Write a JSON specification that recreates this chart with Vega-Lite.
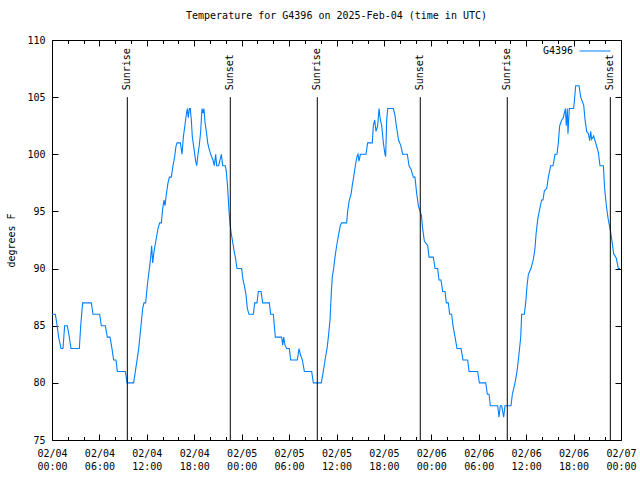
{
  "$schema": "https://vega.github.io/schema/vega-lite/v6.json",
  "width": 569,
  "height": 400,
  "autosize": {"type": "none"},
  "padding": {"left": 52, "top": 40, "right": 19, "bottom": 40},
  "background": "white",
  "title": {"text": "Temperature for G4396 on 2025-Feb-04 (time in UTC)", "font": "DejaVu Sans Mono", "fontSize": 10, "fontWeight": "normal", "color": "black", "anchor": "middle", "offset": 14},
  "config": {
    "view": {"stroke": "black", "strokeWidth": 1},
    "axis": {"domain": false, "grid": false, "labelFont": "DejaVu Sans Mono", "labelFontSize": 10, "labelColor": "black", "tickColor": "black", "tickWidth": 1, "titleFont": "DejaVu Sans Mono", "titleFontSize": 10, "titleFontWeight": "normal", "titleColor": "black"}
  },
  "datasets": {
    "temps": [
      {"hour":0,"temp":86},{"hour":0.42,"temp":86},{"hour":0.59,"temp":85.3},{"hour":0.84,"temp":84},{"hour":1.14,"temp":83},{"hour":1.39,"temp":83},{"hour":1.6,"temp":85},{"hour":1.94,"temp":85},{"hour":2.19,"temp":84},{"hour":2.4,"temp":83},{"hour":3.46,"temp":83},{"hour":3.63,"temp":85},{"hour":3.88,"temp":87},{"hour":4.98,"temp":87},{"hour":5.19,"temp":86},{"hour":6.03,"temp":86},{"hour":6.24,"temp":85},{"hour":6.75,"temp":85},{"hour":7.0,"temp":84},{"hour":7.34,"temp":84},{"hour":7.59,"temp":83},{"hour":7.8,"temp":82},{"hour":8.1,"temp":82},{"hour":8.27,"temp":81},{"hour":9.28,"temp":81},{"hour":9.4,"temp":80.5},{"hour":9.49,"temp":80},{"hour":10.33,"temp":80},{"hour":10.55,"temp":81},{"hour":10.97,"temp":83},{"hour":11.26,"temp":85},{"hour":11.47,"temp":86.5},{"hour":11.64,"temp":87},{"hour":11.85,"temp":87},{"hour":12.06,"temp":88.5},{"hour":12.32,"temp":90},{"hour":12.49,"temp":91},{"hour":12.61,"temp":92},{"hour":12.74,"temp":90.5},{"hour":12.91,"temp":91.5},{"hour":13.16,"temp":92.5},{"hour":13.41,"temp":93.5},{"hour":13.62,"temp":94},{"hour":13.84,"temp":94},{"hour":14.0,"temp":95.2},{"hour":14.17,"temp":96},{"hour":14.3,"temp":95.5},{"hour":14.47,"temp":96.5},{"hour":14.68,"temp":97.5},{"hour":14.85,"temp":98},{"hour":15.1,"temp":98},{"hour":15.31,"temp":99},{"hour":15.52,"temp":99.8},{"hour":15.69,"temp":100.7},{"hour":15.82,"temp":101},{"hour":16.24,"temp":101},{"hour":16.45,"temp":100},{"hour":16.62,"temp":101.5},{"hour":16.83,"temp":102.6},{"hour":17.0,"temp":103.5},{"hour":17.13,"temp":104},{"hour":17.25,"temp":103.2},{"hour":17.38,"temp":104},{"hour":17.5,"temp":104},{"hour":17.63,"temp":103},{"hour":17.76,"temp":101.5},{"hour":17.97,"temp":100.5},{"hour":18.18,"temp":99.4},{"hour":18.31,"temp":99},{"hour":18.47,"temp":100},{"hour":18.64,"temp":100.8},{"hour":18.81,"temp":102},{"hour":18.98,"temp":104},{"hour":19.11,"temp":103.6},{"hour":19.23,"temp":104},{"hour":19.36,"temp":102.8},{"hour":19.53,"temp":102},{"hour":19.7,"temp":101},{"hour":19.87,"temp":100.5},{"hour":20.08,"temp":100},{"hour":20.37,"temp":99.5},{"hour":20.54,"temp":99},{"hour":20.71,"temp":100},{"hour":20.84,"temp":99},{"hour":21.09,"temp":99},{"hour":21.43,"temp":100},{"hour":21.6,"temp":99},{"hour":21.93,"temp":99},{"hour":22.06,"temp":98.5},{"hour":22.23,"temp":97},{"hour":22.4,"temp":95},{"hour":22.52,"temp":94},{"hour":22.65,"temp":93.2},{"hour":22.82,"temp":92.5},{"hour":23.03,"temp":91.6},{"hour":23.2,"temp":91},{"hour":23.41,"temp":90},{"hour":24.0,"temp":90},
      {"hour":24.17,"temp":89},{"hour":24.34,"temp":88.5},{"hour":24.55,"temp":87.7},{"hour":24.72,"temp":86.5},{"hour":24.93,"temp":86},{"hour":25.48,"temp":86},{"hour":25.65,"temp":87},{"hour":25.94,"temp":87},{"hour":26.11,"temp":88},{"hour":26.45,"temp":88},{"hour":26.66,"temp":87},{"hour":27.5,"temp":87},{"hour":27.67,"temp":86},{"hour":28.01,"temp":86},{"hour":28.13,"temp":85},{"hour":28.26,"temp":84},{"hour":29.06,"temp":84},{"hour":29.19,"temp":83.3},{"hour":29.32,"temp":84},{"hour":29.48,"temp":83.3},{"hour":29.69,"temp":83},{"hour":30.03,"temp":83},{"hour":30.2,"temp":82},{"hour":31.04,"temp":82},{"hour":31.26,"temp":83},{"hour":31.42,"temp":82.5},{"hour":31.68,"temp":82},{"hour":31.93,"temp":81},{"hour":32.86,"temp":81},{"hour":33.07,"temp":80},{"hour":34.08,"temp":80},{"hour":34.33,"temp":81},{"hour":34.55,"temp":82},{"hour":34.8,"temp":83},{"hour":34.97,"temp":84},{"hour":35.18,"temp":85.5},{"hour":35.35,"temp":88},{"hour":35.47,"temp":89.3},{"hour":35.64,"temp":90},{"hour":35.81,"temp":91},{"hour":36.02,"temp":92},{"hour":36.27,"temp":93},{"hour":36.49,"temp":93.8},{"hour":36.65,"temp":94},{"hour":37.29,"temp":94},{"hour":37.41,"temp":95},{"hour":37.62,"temp":96},{"hour":37.84,"temp":96.5},{"hour":38.0,"temp":97.3},{"hour":38.17,"temp":98},{"hour":38.38,"temp":99},{"hour":38.59,"temp":99.8},{"hour":38.72,"temp":100},{"hour":38.85,"temp":99.4},{"hour":39.02,"temp":100},{"hour":39.73,"temp":100},{"hour":39.94,"temp":101},{"hour":40.53,"temp":101},{"hour":40.66,"temp":102.5},{"hour":40.83,"temp":103},{"hour":41.0,"temp":102},{"hour":41.21,"temp":102.5},{"hour":41.38,"temp":104},{"hour":41.55,"temp":103},{"hour":41.72,"temp":102.5},{"hour":41.93,"temp":101},{"hour":42.14,"temp":100},{"hour":42.22,"temp":99.8},{"hour":42.35,"temp":103},{"hour":42.48,"temp":104},{"hour":43.19,"temp":104},{"hour":43.4,"temp":103.4},{"hour":43.61,"temp":102.3},{"hour":43.87,"temp":101.2},{"hour":44.12,"temp":100.8},{"hour":44.37,"temp":100},{"hour":44.96,"temp":100},{"hour":45.18,"temp":99},{"hour":45.43,"temp":98.7},{"hour":45.72,"temp":98},{"hour":45.93,"temp":98},{"hour":46.14,"temp":96.6},{"hour":46.36,"temp":95.5},{"hour":46.57,"temp":95},{"hour":46.74,"temp":94.7},{"hour":46.9,"temp":93.5},{"hour":47.12,"temp":92.4},
      {"hour":47.54,"temp":92},{"hour":47.71,"temp":91},{"hour":48.25,"temp":91},{"hour":48.47,"temp":90},{"hour":48.8,"temp":90},{"hour":48.97,"temp":89},{"hour":49.22,"temp":89},{"hour":49.44,"temp":88},{"hour":49.73,"temp":88},{"hour":49.9,"temp":87},{"hour":50.15,"temp":87},{"hour":50.32,"temp":86},{"hour":50.57,"temp":86},{"hour":50.74,"temp":85},{"hour":51.0,"temp":84},{"hour":51.25,"temp":83},{"hour":51.76,"temp":83},{"hour":52.01,"temp":82},{"hour":52.6,"temp":82},{"hour":52.77,"temp":81},{"hour":53.86,"temp":81},{"hour":54.08,"temp":80},{"hour":54.88,"temp":80},{"hour":55.09,"temp":79},{"hour":55.3,"temp":79},{"hour":55.47,"temp":78},{"hour":56.4,"temp":78},{"hour":56.56,"temp":77},{"hour":56.73,"temp":78},{"hour":56.9,"temp":78},{"hour":57.15,"temp":77},{"hour":57.32,"temp":78},{"hour":58.08,"temp":78},{"hour":58.25,"temp":79},{"hour":58.59,"temp":80},{"hour":58.84,"temp":81},{"hour":59.09,"temp":82.5},{"hour":59.31,"temp":84},{"hour":59.43,"temp":86},{"hour":59.77,"temp":86},{"hour":59.94,"temp":87},{"hour":60.11,"temp":88.5},{"hour":60.28,"temp":89.5},{"hour":60.61,"temp":90},{"hour":60.91,"temp":90.8},{"hour":61.12,"temp":91.8},{"hour":61.25,"temp":93},{"hour":61.46,"temp":94.3},{"hour":61.71,"temp":95.2},{"hour":61.96,"temp":96},{"hour":62.13,"temp":96},{"hour":62.3,"temp":96.8},{"hour":62.6,"temp":97},{"hour":62.81,"temp":98},{"hour":63.1,"temp":99},{"hour":63.4,"temp":99},{"hour":63.65,"temp":100},{"hour":63.9,"temp":100},{"hour":64.07,"temp":101},{"hour":64.24,"temp":102.5},{"hour":64.5,"temp":103},{"hour":64.7,"temp":103.2},{"hour":64.96,"temp":104},{"hour":65.08,"temp":102.5},{"hour":65.21,"temp":104},{"hour":65.29,"temp":101.8},{"hour":65.46,"temp":104},{"hour":66.01,"temp":104},{"hour":66.14,"temp":105},{"hour":66.27,"temp":106},{"hour":66.69,"temp":106},{"hour":66.9,"temp":105},{"hour":67.28,"temp":104.3},{"hour":67.45,"temp":103},{"hour":67.66,"temp":102},{"hour":67.87,"temp":101.8},{"hour":68.04,"temp":101.2},{"hour":68.16,"temp":102},{"hour":68.29,"temp":101.3},{"hour":68.54,"temp":101.6},{"hour":68.8,"temp":101},{"hour":69.13,"temp":100.2},{"hour":69.34,"temp":99},{"hour":69.77,"temp":99},{"hour":69.93,"temp":97},{"hour":70.15,"temp":95.5},{"hour":70.36,"temp":94.4},{"hour":70.61,"temp":93.5},{"hour":70.82,"temp":92.6},{"hour":71.07,"temp":91.3},{"hour":71.41,"temp":90.9},{"hour":71.66,"temp":90},{"hour":71.87,"temp":90}
    ],
    "sun": [
      {"hour": 9.53, "event": "Sunrise"},
      {"hour": 22.56, "event": "Sunset"},
      {"hour": 33.57, "event": "Sunrise"},
      {"hour": 46.6, "event": "Sunset"},
      {"hour": 57.61, "event": "Sunrise"},
      {"hour": 70.65, "event": "Sunset"}
    ]
  },
  "layer": [
    {
      "data": {"name": "temps"},
      "mark": {"type": "line", "strokeWidth": 1.1, "interpolate": "linear"},
      "encoding": {
        "x": {"field": "hour", "type": "quantitative", "scale": {"domain": [0, 72], "nice": false, "zero": false},
          "axis": {"orient": "bottom", "title": null, "values": [0,2,4,6,8,10,12,14,16,18,20,22,24,26,28,30,32,34,36,38,40,42,44,46,48,50,52,54,56,58,60,62,64,66,68,70,72],
            "labelExpr": "datum.value % 6 === 0 ? ['02/0' + (4 + floor(datum.value / 24)), ((datum.value % 24) < 10 ? '0' : '') + (datum.value % 24) + ':00'] : ''",
            "tickSize": {"condition": {"test": "datum.value % 6 === 0", "value": -6}, "value": -3.5},
            "labelPadding": 14, "labelLineHeight": 13, "labelBaseline": "top", "labelFlush": false, "labelOverlap": false}},
        "y": {"field": "temp", "type": "quantitative", "scale": {"domain": [75, 110], "nice": false, "zero": false},
          "axis": {"orient": "left", "title": "degrees F", "values": [75,80,85,90,95,100,105,110], "tickSize": -6, "labelPadding": 13, "titlePadding": 10}},
        "color": {"datum": "G4396", "type": "nominal", "scale": {"range": ["#0080ff"]},
          "legend": {"title": null, "orient": "none", "legendX": 527, "legendY": -5, "padding": 0, "symbolType": "stroke", "symbolSize": 961, "symbolStrokeWidth": 1, "labelAlign": "right", "labelOffset": -38, "labelFont": "DejaVu Sans Mono", "labelFontSize": 10, "labelColor": "black"}}
      }
    },
    {
      "data": {"name": "sun"},
      "mark": {"type": "rule", "color": "black", "strokeWidth": 1},
      "encoding": {
        "x": {"field": "hour", "type": "quantitative",
          "axis": {"orient": "top", "title": null, "labels": false, "values": [0,2,4,6,8,10,12,14,16,18,20,22,24,26,28,30,32,34,36,38,40,42,44,46,48,50,52,54,56,58,60,62,64,66,68,70,72],
            "tickSize": {"condition": {"test": "datum.value % 6 === 0", "value": -6}, "value": -3.5}}},
        "y": {"datum": 75, "type": "quantitative",
          "axis": {"orient": "right", "title": null, "labels": false, "values": [75,80,85,90,95,100,105,110], "tickSize": -6}},
        "y2": {"datum": 105.0}
      }
    },
    {
      "data": {"name": "sun"},
      "mark": {"type": "text", "angle": 270, "align": "left", "baseline": "middle", "font": "DejaVu Sans Mono", "fontSize": 10, "color": "black"},
      "encoding": {
        "x": {"field": "hour", "type": "quantitative", "axis": null},
        "y": {"datum": 105.6, "type": "quantitative", "axis": null},
        "text": {"field": "event"}
      }
    }
  ],
  "resolve": {"axis": {"x": "independent", "y": "independent"}}
}
